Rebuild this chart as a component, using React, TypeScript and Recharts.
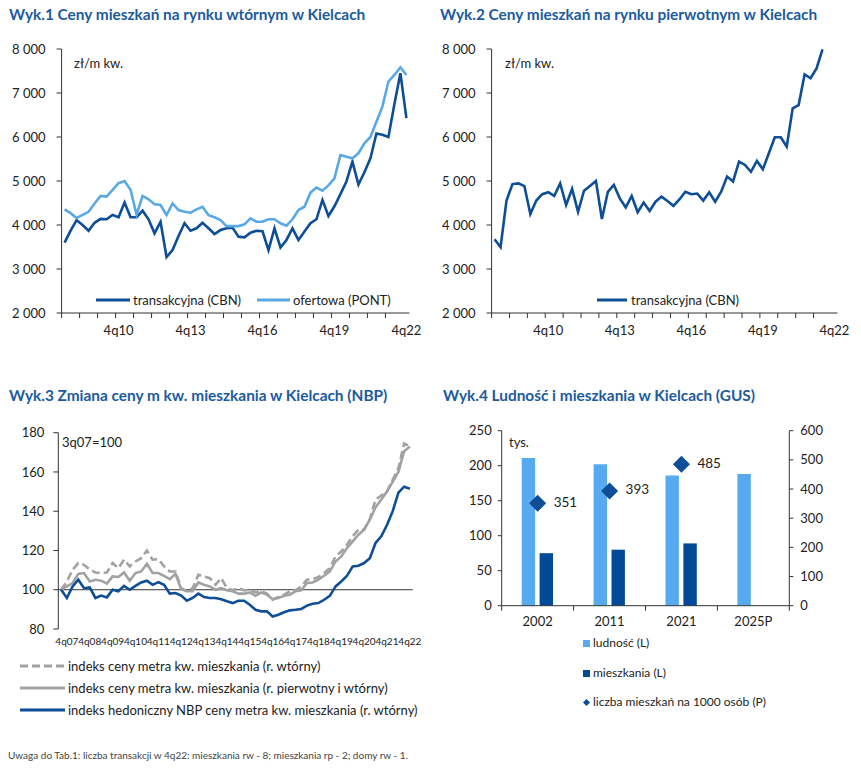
import React from 'react';
import { LineChart, Line, XAxis, YAxis, ComposedChart, Bar, ReferenceLine } from 'recharts';

const FONT = 'Lato, "Open Sans", sans-serif';
const DARK = '#0d4e96';
const LIGHT = '#5aa9e6';
const GRAY = '#a2a2a2';
const TITLE = '#1c5b9e';
const AXIS = '#333333';
const TXT = '#222222';
const BAR_LIGHT = '#58aaf0';
const BAR_DARK = '#004a97';

// ---------- Wyk.1 / Wyk.2 (3q08 .. 4q22) ----------
const quarters12 = ('3q08 4q08 1q09 2q09 3q09 4q09 1q10 2q10 3q10 4q10 1q11 2q11 3q11 4q11 ' +
  '1q12 2q12 3q12 4q12 1q13 2q13 3q13 4q13 1q14 2q14 3q14 4q14 1q15 2q15 3q15 4q15 ' +
  '1q16 2q16 3q16 4q16 1q17 2q17 3q17 4q17 1q18 2q18 3q18 4q18 1q19 2q19 3q19 4q19 ' +
  '1q20 2q20 3q20 4q20 1q21 2q21 3q21 4q21 1q22 2q22 3q22 4q22').split(' ');
const labels12 = ['4q10', '4q13', '4q16', '4q19', '4q22'];

const secondaryCBN = [3600, 3870, 4110, 4000, 3870, 4050, 4140, 4130, 4230, 4175,
  4510, 4175, 4175, 4325, 4130, 3810, 4075, 3270, 3430, 3750,
  4040, 3870, 3925, 4050, 3925, 3795, 3885, 3925, 3940, 3735,
  3720, 3825, 3870, 3860, 3430, 3925, 3490, 3660, 3925, 3660,
  3850, 4040, 4130, 4570, 4205, 4425, 4700, 4990, 5440, 4920,
  5200, 5515, 6080, 6050, 6000, 6750, 7450, 6430];
const secondaryPONT = [4357, 4270, 4160, 4230, 4300, 4490, 4660, 4645, 4800, 4950,
  5000, 4800, 4230, 4660, 4585, 4470, 4455, 4225, 4490, 4340,
  4300, 4280, 4355, 4415, 4225, 4175, 4110, 3975, 3975, 3975,
  4015, 4150, 4075, 4075, 4130, 4130, 4040, 3985, 4130, 4340,
  4415, 4735, 4850, 4780, 4900, 5060, 5590, 5550, 5515, 5630,
  5855, 6000, 6345, 6690, 7260, 7410, 7585, 7410];
const primaryCBN = [3675, 3495, 4555, 4930, 4945, 4885, 4250, 4555, 4700, 4745,
  4660, 4945, 4455, 4820, 4300, 4780, 4885, 5000, 4135, 4755,
  4910, 4605, 4400, 4660, 4290, 4510, 4320, 4530, 4645, 4545,
  4435, 4580, 4755, 4700, 4715, 4555, 4745, 4530, 4755, 5100,
  4990, 5440, 5365, 5210, 5455, 5265, 5630, 5995, 5995, 5780,
  6650, 6725, 7425, 7335, 7560, 7990, null, null];
const priceTicks = [2000, 3000, 4000, 5000, 6000, 7000, 8000];

// ---------- Wyk.3 (3q07 .. 4q22) ----------
const quarters3 = ('3q07 4q07 1q08 2q08 3q08 4q08 1q09 2q09 3q09 4q09 1q10 2q10 3q10 4q10 ' +
  '1q11 2q11 3q11 4q11 1q12 2q12 3q12 4q12 1q13 2q13 3q13 4q13 1q14 2q14 3q14 4q14 ' +
  '1q15 2q15 3q15 4q15 1q16 2q16 3q16 4q16 1q17 2q17 3q17 4q17 1q18 2q18 3q18 4q18 ' +
  '1q19 2q19 3q19 4q19 1q20 2q20 3q20 4q20 1q21 2q21 3q21 4q21 1q22 2q22 3q22 4q22').split(' ');
const idxSecondary = [100, 104.2, 110.2, 113.6, 112.7, 110.2, 108.8, 108.5, 108.8, 113.6,
  111, 115.3, 111.9, 114.4, 116.1, 120, 115.3, 115.6, 111.9, 109.3,
  109.3, 100.8, 99.2, 100.8, 107.6, 106.8, 105.9, 102.5, 105.9, 100.8,
  99.7, 100.8, 99.7, 100, 98.6, 99.2, 98, 94.9, 96.3, 97.5,
  99.2, 99.7, 101.7, 105.1, 105.4, 106.5, 108.5, 111, 117, 119.5,
  122.9, 127.2, 130.6, 130.6, 136, 146, 148, 150, 156, 162,
  174.5, 173];
const idxBoth = [100, 101.7, 103.4, 108.1, 108.5, 104.2, 105.1, 104.6, 103.1, 106.8,
  106.5, 108.8, 104.6, 108.5, 109.3, 113.2, 108.5, 108.5, 107.1, 105.4,
  108.1, 100.3, 99.2, 99.2, 103.7, 102.5, 101.7, 100, 100.8, 99.7,
  99.2, 98, 98, 98.6, 96.9, 98.6, 97.5, 95.2, 95.8, 96.9,
  97.5, 99.2, 99.7, 103.4, 103.7, 105.1, 107.1, 109.3, 114.4, 117,
  121.2, 124.6, 128, 130.6, 135.7, 142, 146, 150, 155, 160,
  170.5, 173];
const idxHedonic = [100, 95.8, 101.7, 105.1, 100.8, 101.2, 95.8, 97, 96.1, 100,
  99.2, 102, 100, 102, 103.7, 104.6, 102.5, 103.9, 102.5, 98,
  98.3, 97, 94.4, 95.8, 98, 96.3, 95.8, 95.8, 95.2, 94.1,
  93.2, 94.4, 94.4, 92.4, 89.8, 89, 89, 86.4, 87.3, 88.5,
  89.5, 89.8, 90.2, 91.9, 92.9, 93.2, 94.9, 96.9, 101.7, 104.2,
  107.1, 111.9, 112.2, 113.6, 116.1, 123.8, 127.2, 133, 140, 149.5,
  152.5, 151.5];
const indexTicks = [80, 100, 120, 140, 160, 180];

// ---------- Wyk.4 ----------
const years = ['2002', '2011', '2021', '2025P'];
const population = [211, 202, 186, 188];
const dwellings = [75, 80, 89, null];
const perThousand = [351, 393, 485, null];
const leftTicks4 = [0, 50, 100, 150, 200, 250];
const rightTicks4 = [0, 100, 200, 300, 400, 500, 600];

// ---------- derived tables ----------
const data1 = quarters12.map((q, i) => ({ i, q, cbn: secondaryCBN[i], pont: secondaryPONT[i] }));
const data2 = quarters12.map((q, i) => ({ i, q, cbn: primaryCBN[i] }));
const data3 = quarters3.map((q, i) => ({ i, q, sec: idxSecondary[i], both: idxBoth[i], hed: idxHedonic[i] }));
const data4 = years.map((y, i) => ({ y, pop: population[i], dw: dwellings[i], per: perThousand[i] }));

const boundaryTicks12: number[] = [];
for (let k = 0; k * 3 < quarters12.length - 1; k++) boundaryTicks12.push(k * 3 - 0.5);
const labelTicks12 = labels12.map((l) => quarters12.indexOf(l));
const ticks12 = [...boundaryTicks12, ...labelTicks12].sort((a, b) => a - b);
const ticks3 = quarters3.map((q, i) => (q.startsWith('4q') ? i : -1)).filter((i) => i >= 0);

const fmtThousands = (v: number) => String(v).replace(/\B(?=(\d{3})+$)/g, ' ');
const tickStyle = { fontSize: 13, fill: TXT, fontFamily: FONT };

const QuarterTick = (props: any) => {
  const { x, y, payload } = props;
  const v = payload.value as number;
  if (Number.isInteger(v)) {
    return (
      <text x={x} y={y + 19} textAnchor="middle" dominantBaseline="middle" fontSize={13} fill={TXT} fontFamily={FONT}>
        {quarters12[v]}
      </text>
    );
  }
  return <line x1={x} x2={x} y1={y} y2={y + 5} stroke={AXIS} strokeWidth={1} />;
};

const IndexTick = (props: any) => {
  const { x, y, payload } = props;
  return (
    <text x={x} y={y + 13} textAnchor="middle" dominantBaseline="middle" fontSize={10} fill={TXT} fontFamily={FONT}>
      {quarters3[payload.value]}
    </text>
  );
};

const W4 = 421;
const ML4 = 61.7;
const MR4 = 71.7;
const BAND4 = (W4 - ML4 - MR4) / years.length;
const YearTick = (props: any) => {
  const { x, y, payload, index } = props;
  const half = BAND4 / 2;
  return (
    <g>
      <line x1={x - half} x2={x - half} y1={y} y2={y + 5} stroke={AXIS} />
      {index === years.length - 1 && <line x1={x + half} x2={x + half} y1={y} y2={y + 5} stroke={AXIS} />}
      <text x={x} y={y + 17} textAnchor="middle" dominantBaseline="middle" fontSize={13} fill={TXT} fontFamily={FONT}>
        {payload.value}
      </text>
    </g>
  );
};

const Diamond = (props: any) => {
  const { cx, cy } = props;
  if (cx == null || cy == null || props.value == null) return <g />;
  const r = 8.5;
  return <path d={`M${cx},${cy - r}L${cx + r},${cy}L${cx},${cy + r}L${cx - r},${cy}Z`} fill={DARK} />;
};
const DiamondLabel = (props: any) => {
  const { x, y, value } = props;
  if (value == null || x == null || y == null) return <g />;
  return (
    <text x={x + 16} y={y} dominantBaseline="middle" fontSize={13.5} fill={TXT} fontFamily={FONT}>
      {value}
    </text>
  );
};

const titleStyle: React.CSSProperties = {
  position: 'absolute', fontFamily: FONT, fontWeight: 700, fontSize: 15.4, color: TITLE, whiteSpace: 'nowrap', lineHeight: '18px',
};
const textStyle: React.CSSProperties = {
  position: 'absolute', fontFamily: FONT, fontSize: 13, color: TXT, whiteSpace: 'nowrap', lineHeight: '16px',
};

const LineSwatch = ({ color, dash, w }: { color: string; dash?: string; w: number }) => (
  <svg width={w} height={6} style={{ display: 'block' }}>
    <line x1={0} x2={w} y1={3} y2={3} stroke={color} strokeWidth={3} strokeDasharray={dash} />
  </svg>
);

const LegendRow = ({ left, top, color, dash, w, label, gap }: any) => (
  <div style={{ position: 'absolute', left, top: top - 8, height: 16, display: 'flex', alignItems: 'center', fontFamily: FONT, fontSize: 13, color: TXT, whiteSpace: 'nowrap' }}>
    <LineSwatch color={color} dash={dash} w={w} />
    <span style={{ marginLeft: gap }}>{label}</span>
  </div>
);

const PriceChart = ({ data, left, width, plotRight, series }: any) => (
  <div style={{ position: 'absolute', left, top: 0 }}>
    <LineChart width={width} height={345} data={data} margin={{ top: 49, right: width - plotRight, bottom: 0, left: 0 }}>
      <XAxis dataKey="i" type="number" domain={[-0.5, quarters12.length - 0.5]} ticks={ticks12} interval={0}
        tick={QuarterTick} tickLine={false} tickSize={0} tickMargin={0} height={32} axisLine={{ stroke: AXIS }} allowDataOverflow />
      <YAxis domain={[2000, 8000]} ticks={priceTicks} interval={0} tickFormatter={fmtThousands} width={61.6}
        tick={tickStyle} tickSize={5} tickMargin={11} axisLine={{ stroke: AXIS }} tickLine={{ stroke: AXIS }} />
      {series.map((s: any) => (
        <Line key={s.key} dataKey={s.key} type="linear" stroke={s.color} strokeWidth={2.6} dot={false} isAnimationActive={false} />
      ))}
    </LineChart>
  </div>
);

const legend4Style: React.CSSProperties = { ...textStyle, fontSize: 12, left: 583, display: 'flex', alignItems: 'center' };

export default function App() {
  return (
    <div style={{ position: 'absolute', left: 0, top: 0, width: 861, height: 769, background: '#fff', overflow: 'hidden' }}>
      {/* Wyk.1 */}
      <div style={{ ...titleStyle, left: 9, top: 5 }}>Wyk.1 Ceny mieszkań na rynku wtórnym w Kielcach</div>
      <PriceChart data={data1} left={0} width={430} plotRight={409.4}
        series={[{ key: 'cbn', color: DARK }, { key: 'pont', color: LIGHT }]} />
      <div style={{ ...textStyle, left: 74, top: 55 }}>zł/m kw.</div>
      <LegendRow left={96} top={300} color={DARK} w={34} gap={3} label="transakcyjna (CBN)" />
      <LegendRow left={257} top={300} color={LIGHT} w={33} gap={3} label="ofertowa (PONT)" />

      {/* Wyk.2 */}
      <div style={{ ...titleStyle, left: 440, top: 5 }}>Wyk.2 Ceny mieszkań na rynku pierwotnym w Kielcach</div>
      <PriceChart data={data2} left={430} width={431} plotRight={407.4} series={[{ key: 'cbn', color: DARK }]} />
      <div style={{ ...textStyle, left: 505, top: 55 }}>zł/m kw.</div>
      <LegendRow left={597} top={300} color={DARK} w={30} gap={4} label="transakcyjna (CBN)" />

      {/* Wyk.3 */}
      <div style={{ ...titleStyle, left: 9, top: 386 }}>Wyk.3 Zmiana ceny m kw. mieszkania w Kielcach (NBP)</div>
      <div style={{ position: 'absolute', left: 0, top: 380 }}>
        <LineChart width={440} height={280} data={data3} margin={{ top: 52.7, right: 27.3, bottom: 0, left: 0 }}>
          <XAxis dataKey="i" type="number" domain={[-0.5, quarters3.length - 0.5]} ticks={ticks3} interval={0}
            tick={IndexTick} tickLine={false} axisLine={false} tickSize={0} tickMargin={0} height={31} allowDataOverflow />
          <YAxis domain={[80, 180]} ticks={indexTicks} interval={0} width={58.3} tick={tickStyle}
            tickSize={5} tickMargin={9} axisLine={{ stroke: AXIS }} tickLine={{ stroke: AXIS }} />
          <ReferenceLine y={100} stroke={AXIS} strokeWidth={1} />
          <Line dataKey="sec" type="linear" stroke={GRAY} strokeWidth={2.6} strokeDasharray="8 4" dot={false} isAnimationActive={false} />
          <Line dataKey="both" type="linear" stroke={GRAY} strokeWidth={2.6} dot={false} isAnimationActive={false} />
          <Line dataKey="hed" type="linear" stroke={DARK} strokeWidth={2.6} dot={false} isAnimationActive={false} />
        </LineChart>
      </div>
      <div style={{ ...textStyle, left: 62, top: 434 }}>3q07=100</div>
      <LegendRow left={20} top={666} color={GRAY} dash="8 4" w={45} gap={3} label="indeks ceny metra kw. mieszkania (r. wtórny)" />
      <LegendRow left={20} top={688} color={GRAY} w={45} gap={3} label="indeks ceny metra kw. mieszkania (r. pierwotny i wtórny)" />
      <LegendRow left={20} top={710} color={DARK} w={45} gap={3} label="indeks hedoniczny NBP ceny metra kw. mieszkania (r. wtórny)" />

      {/* Wyk.4 */}
      <div style={{ ...titleStyle, left: 443, top: 386 }}>Wyk.4 Ludność i mieszkania w Kielcach (GUS)</div>
      <div style={{ position: 'absolute', left: 440, top: 380 }}>
        <ComposedChart width={W4} height={260} data={data4} margin={{ top: 50.7, right: 0, bottom: 0, left: 0 }}
          barSize={13.4} barGap={4.5}>
          <XAxis dataKey="y" tick={YearTick} tickLine={false} tickSize={0} tickMargin={0} interval={0} height={34.3}
            axisLine={{ stroke: AXIS }} />
          <YAxis yAxisId="L" domain={[0, 250]} ticks={leftTicks4} interval={0} width={ML4} tick={tickStyle}
            tickSize={4} tickMargin={6} axisLine={{ stroke: AXIS }} tickLine={{ stroke: AXIS }} />
          <YAxis yAxisId="R" orientation="right" domain={[0, 600]} ticks={rightTicks4} interval={0} width={MR4} tick={tickStyle}
            tickSize={4} tickMargin={7} axisLine={{ stroke: AXIS }} tickLine={{ stroke: AXIS }} />
          <Bar yAxisId="L" dataKey="pop" fill={BAR_LIGHT} isAnimationActive={false} />
          <Bar yAxisId="L" dataKey="dw" fill={BAR_DARK} isAnimationActive={false} />
          <Line yAxisId="R" dataKey="per" stroke="none" dot={Diamond} activeDot={false} label={DiamondLabel} isAnimationActive={false} />
        </ComposedChart>
      </div>
      <div style={{ ...textStyle, left: 509, top: 434 }}>tys.</div>
      <div style={{ ...legend4Style, top: 635 }}>
        <span style={{ display: 'inline-block', width: 7, height: 7, background: BAR_LIGHT, marginRight: 3 }} />ludność (L)
      </div>
      <div style={{ ...legend4Style, top: 665 }}>
        <span style={{ display: 'inline-block', width: 7, height: 7, background: BAR_DARK, marginRight: 3 }} />mieszkania (L)
      </div>
      <div style={{ ...legend4Style, top: 694 }}>
        <svg width={7} height={7} style={{ marginRight: 3 }}><path d="M3.5,0L7,3.5L3.5,7L0,3.5Z" fill={DARK} /></svg>liczba mieszkań na 1000 osób (P)
      </div>

      {/* footer */}
      <div style={{ position: 'absolute', left: 8, top: 749, fontFamily: FONT, fontSize: 10, color: '#444', whiteSpace: 'nowrap' }}>
        Uwaga do Tab.1: liczba transakcji w 4q22: mieszkania rw - 8; mieszkania rp - 2; domy rw - 1.
      </div>
    </div>
  );
}
